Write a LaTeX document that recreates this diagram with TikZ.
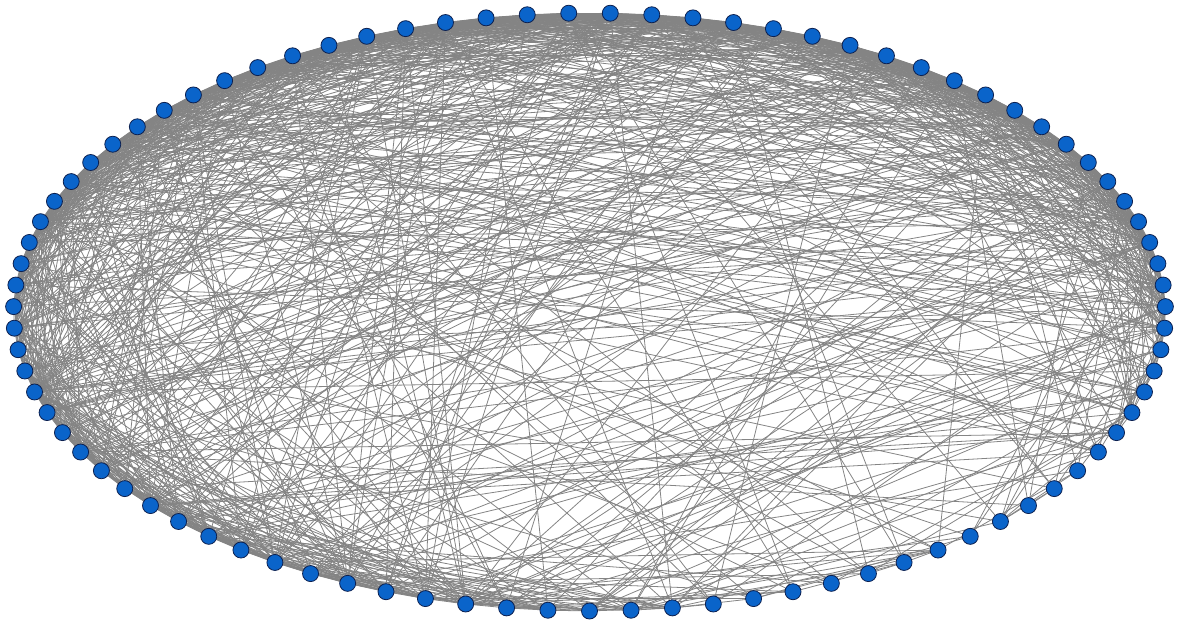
\documentclass[tikz,border=0pt]{standalone}
\usetikzlibrary{backgrounds}
\definecolor{edgec}{RGB}{132,132,132}
\definecolor{nodefill}{RGB}{10,100,202}
\definecolor{nodeline}{RGB}{12,32,80}
\tikzset{
  vert/.style={circle,fill=nodefill,draw=nodeline,line width=0.8pt,minimum size=16pt,inner sep=0pt},
  edgeline/.style={draw=edgec,line width=0.8pt}
}
\def\Wlist{{0.85,0.8,0.65,0.55,0.4,0.38,0.38,0.38,0.38,0.38,0.38,0.38,0.38,0.38,0.4,0.45,0.6,0.65,0.7,0.8,0.85,0.95,1.05,1.15,1.3,1.9,1.9,1.35,1.4,1.45,1.5,1.55,1.55,1.6,1.6,1.6,1.6,1.6,1.6,1.6,1.6,1.6,1.6,1.6,1.6,1.6,1.6,1.6,1.6,1.6,1.6,1.6,1.6,1.65,1.65,1.7,1.7,1.7,1.75,2.1,1.8,1.5,1.25,1.0,1.0,1.0,1.0,1.05,1.15,2.4,1.15,1.05,1.1,1.15,1.15,1.15,1.15,1.15,1.15,1.15,1.15,1.1,1.05,1.0,1.0,0.95,0.9}}
\begin{document}
\begin{tikzpicture}[x=1pt,y=-1pt]
\useasboundingbox (0,0) rectangle (1180,626);
\pgfmathsetmacro\stp{360/87}
\foreach \i in {0,...,86}{
  \pgfmathsetmacro\t{270+\i*\stp}
  \node[vert] (v\i) at ({589.5+576*cos(\t)},{312-299*sin(\t)}) {};
}
\pgfmathsetseed{4711}
\begin{pgfonlayer}{background}
\foreach \i in {0,...,85}{
  \pgfmathtruncatemacro\ii{\i+1}
  \pgfmathsetmacro\wi{\Wlist[\i]}
  \foreach \j in {\ii,...,86}{
    \pgfmathsetmacro\wj{\Wlist[\j]}
    \pgfmathtruncatemacro\dd{min(abs(\i-\j),87-abs(\i-\j))}
    \pgfmathsetmacro\p{\wi*\wj*(0.085+0.8*exp(-\dd/4)+0.3*exp(-\dd/14))}
    \pgfmathsetmacro\r{rnd}
    \ifdim\r pt<\p pt
      \draw[edgeline] (v\i.center) -- (v\j.center);
    \fi
  }
}
\end{pgfonlayer}
\end{tikzpicture}
\end{document}
